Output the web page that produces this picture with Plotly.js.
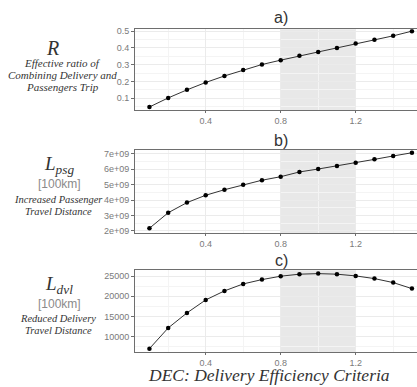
<!DOCTYPE html>
<html><head><meta charset="utf-8">
<script src="https://cdn.plot.ly/plotly-3.0.1.min.js"></script>
<style>html,body{margin:0;padding:0;overflow:hidden;background:#fff}#chart{width:417px;height:387px}</style>
</head><body><div id="chart"></div>
<script>
// DEC values (x)
const dec = [0.1,0.2,0.3,0.4,0.5,0.6,0.7,0.8,0.9,1.0,1.1,1.2,1.3,1.4,1.5];
// a) Effective ratio R
const ratioR = [0.048,0.102,0.150,0.194,0.233,0.269,0.301,0.327,0.353,0.376,0.400,0.426,0.448,0.472,0.500];
// b) Increased passenger travel distance [100km]
const lPsg = [2.16e9,3.17e9,3.83e9,4.31e9,4.67e9,5.00e9,5.29e9,5.52e9,5.83e9,6.02e9,6.22e9,6.43e9,6.65e9,6.87e9,7.08e9];
// c) Reduced delivery travel distance [100km]
const lDvl = [7030,12150,15870,19080,21310,23040,24110,24950,25450,25590,25450,25020,24360,23370,21880];
// highlighted DEC band
const band = [0.8, 1.2];
// tick labels
const xTicks = [0.4, 0.8, 1.2];
const xTickText = ["0.4", "0.8", "1.2"];
const aTicks = [0.1,0.2,0.3,0.4,0.5];
const aTickText = ["0.1","0.2","0.3","0.4","0.5"];
const bTicks = [2e9,3e9,4e9,5e9,6e9,7e9];
const bTickText = ["2e+09","3e+09","4e+09","5e+09","6e+09","7e+09"];
const cTicks = [10000,15000,20000,25000];
const cTickText = ["10000","15000","20000","25000"];

const lineColor = '#333333';
function trace(y, xa, ya){
  return {x: dec, y: y, xaxis: xa, yaxis: ya, type: 'scatter', mode: 'lines+markers',
    line: {color: lineColor, width: 1}, marker: {color: '#000', size: 4.5}, hoverinfo: 'skip'};
}
const tickFont = {family: 'Liberation Sans, Arial, sans-serif', size: 9, color: '#7a7a7a'};
const gridCol = '#ebebeb';
const minorCol = '#f4f4f4';
function xAxis(anchor){
  return {anchor: anchor, domain: [0, 1], range: [0.023, 1.527], tickvals: xTicks, ticktext: xTickText,
    showgrid: true, gridcolor: gridCol, gridwidth: 1, zeroline: false,
    minor: {tickvals: [0.2,0.6,1.0,1.4], showgrid: true, gridcolor: minorCol, gridwidth: 1, ticks: ''},
    showline: true, linecolor: '#6e6e6e', linewidth: 1, mirror: true,
    ticks: 'outside', ticklen: 2, tickcolor: '#6e6e6e', tickfont: tickFont};
}
function yAxis(anchor, dom, rng, tv, tt, minorVals){
  return {anchor: anchor, domain: dom, range: rng, tickvals: tv, ticktext: tt,
    showgrid: true, gridcolor: gridCol, gridwidth: 1, zeroline: false,
    minor: {tickvals: minorVals, showgrid: true, gridcolor: minorCol, gridwidth: 1, ticks: ''},
    showline: true, linecolor: '#6e6e6e', linewidth: 1, mirror: false,
    ticks: 'outside', ticklen: 3, tickcolor: '#6e6e6e', tickfont: tickFont};
}
const data = [trace(ratioR,'x','y'), trace(lPsg,'x2','y2'), trace(lDvl,'x3','y3')];

const serif = 'Liberation Serif, DejaVu Serif, serif';
const sans = 'Liberation Sans, Arial, sans-serif';
const labCol = '#333333';
function ann(text, x, y, size, extra){
  return Object.assign({text: text, xref: 'paper', yref: 'paper', x: x, y: y, xanchor: 'center', yanchor: 'middle',
    showarrow: false, font: {family: serif, size: size, color: labCol}}, extra || {});
}
const H = 387, L = 135, W = 417 - 135;
function px(xp){ return (xp - L) / W; }
function py(yp){ return (H - yp) / H; }
const gray = {family: sans, size: 12, color: '#8a8a8a'};
const panel = {family: sans, size: 16, color: '#333'};

const annotations = [
  ann('a)', px(281), py(18), 16, {font: panel}),
  ann('b)', px(281), py(140), 16, {font: panel}),
  ann('c)', px(281), py(260), 16, {font: panel}),
  ann('<i>R</i>', px(52), py(48), 20),
  ann('<i>Effective ratio of</i>', px(62), py(63), 11),
  ann('<i>Combining Delivery and</i>', px(62), py(75), 11),
  ann('<i>Passengers Trip</i>', px(62), py(87), 11),
  ann('<i>L<sub>psg</sub></i>', px(59), py(165), 19),
  ann('[100km]', px(59), py(184), 12, {font: gray}),
  ann('<i>Increased Passenger</i>', px(58), py(200), 10.5),
  ann('<i>Travel Distance</i>', px(58), py(211.5), 10.5),
  ann('<i>L<sub>dvl</sub></i>', px(59), py(285), 19),
  ann('[100km]', px(59), py(304), 12, {font: gray}),
  ann('<i>Reduced Delivery</i>', px(58), py(318.5), 10.5),
  ann('<i>Travel Distance</i>', px(58), py(330), 10.5),
  ann('<i>DEC: Delivery Efficiency Criteria</i>', px(269), 0, 17.5, {yanchor: 'bottom'})
];

function bandShape(xa, ya){
  return {type: 'rect', xref: xa, yref: ya + ' domain', x0: band[0], x1: band[1], y0: 0, y1: 1,
    fillcolor: '#e8e8e8', line: {width: 0}, layer: 'below'};
}

const layout = {
  width: 417, height: 387, margin: {l: L, r: 0, t: 0, b: 0},
  paper_bgcolor: '#fff', plot_bgcolor: '#fff', showlegend: false,
  xaxis: xAxis('y'), xaxis2: xAxis('y2'), xaxis3: xAxis('y3'),
  yaxis: yAxis('x', [py(110), py(29.3)], [0.03, 0.511], aTicks, aTickText, [0.05,0.15,0.25,0.35,0.45]),
  yaxis2: yAxis('x2', [py(233.3), py(150)], [1.83e9, 7.26e9], bTicks, bTickText, [2.5e9,3.5e9,4.5e9,5.5e9,6.5e9]),
  yaxis3: yAxis('x3', [py(352), py(270.3)], [6200, 26410], cTicks, cTickText, [7500,12500,17500,22500]),
  shapes: [bandShape('x','y'), bandShape('x2','y2'), bandShape('x3','y3')],
  annotations: annotations
};
Plotly.newPlot('chart', data, layout, {staticPlot: true, displayModeBar: false});
</script></body></html>
